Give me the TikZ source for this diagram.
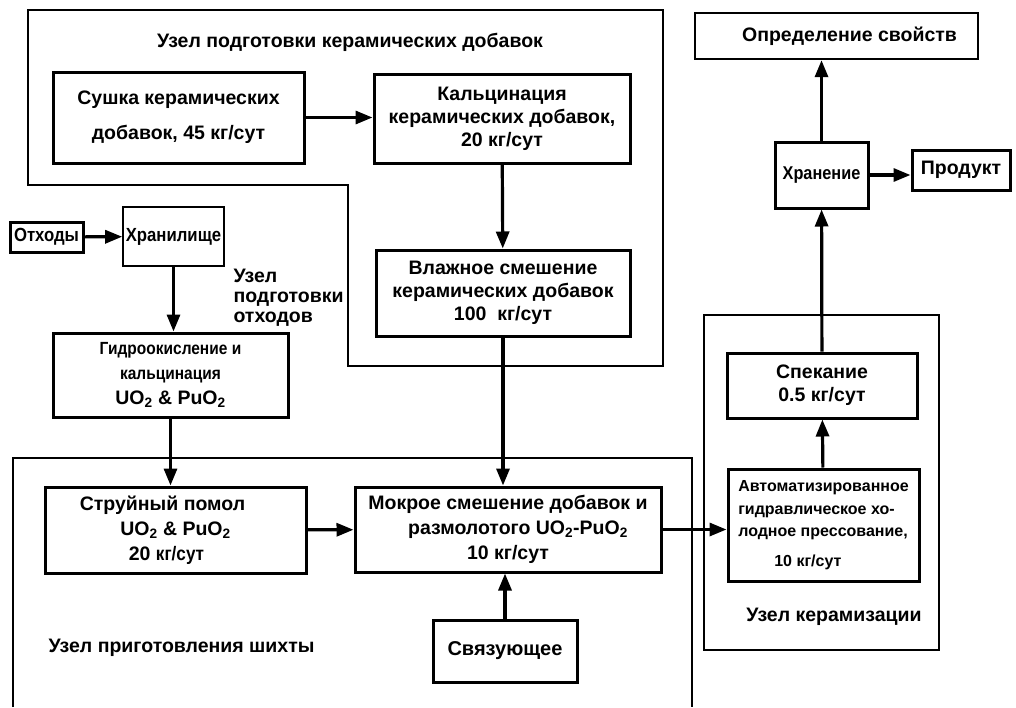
\documentclass[tikz,border=0pt]{standalone}
\usepackage{fontspec}
\setmainfont{Liberation Sans}
\newfontfamily\uzkij[FakeStretch=0.88]{Liberation Sans}
\usetikzlibrary{arrows.meta}
\tikzset{
  blok/.style={draw, line width=3pt, inner sep=0pt, align=center, font=\bfseries\fontsize{19.5}{23}\selectfont},
  tonkij/.style={draw, line width=1.6pt, inner sep=0pt, align=center, font=\bfseries\uzkij\fontsize{19}{23}\selectfont},
  gruppa/.style={line width=1.4pt},
  strelka/.style={-{Triangle[length=17pt,width=13pt]}, line width=3.2pt},
  podpis/.style={font=\bfseries\fontsize{19.5}{20}\selectfont, align=left}
}
\begin{document}
\begin{tikzpicture}[x=1pt, y=-1pt]
\useasboundingbox[fill=white] (0,0) rectangle (1016,707);
\draw[gruppa] (28,10) -- (663,10) -- (663,366) -- (348,366) -- (348,185) -- (28,185) -- cycle;
\draw[gruppa] (13,707) -- (13,458) -- (692,458) -- (692,707);
\draw[gruppa] (704,315) rectangle (939,650);
\node (uzelDob)[podpis] at (350,42) {Узел подготовки керамических добавок};
\node (uzelOth)[podpis, anchor=west] at (230,298) {Узел\\подготовки\\отходов};
\node (uzelShihty)[podpis, anchor=west] at (45,648) {Узел приготовления шихты};
\node (uzelKeram)[podpis] at (834,617) {Узел керамизации};
\node (sushka)[blok, minimum width=251pt, minimum height=91pt, font=\bfseries\fontsize{19.5}{35}\selectfont] at (178.5,117.5) {Сушка керамических\\добавок, 45 кг/сут};
\node (kalc)[blok, minimum width=256pt, minimum height=89pt] at (502,118.5) {Кальцинация\\керамических добавок,\\20 кг/сут};
\node (vlazh)[blok, minimum width=254pt, minimum height=86pt] at (503,293) {Влажное смешение\\керамических добавок\\100~ кг/сут};
\node (othody)[blok, minimum width=73pt, minimum height=30pt, font=\bfseries\uzkij\fontsize{19}{23}\selectfont] at (46.5,237) {Отходы};
\node (hranil)[tonkij, minimum width=101pt, minimum height=59pt] at (173.5,236.5) {Хранилище};
\node (gidro)[blok, minimum width=235pt, minimum height=84pt, font=\bfseries\uzkij\fontsize{17.6}{25}\selectfont] at (170.5,375) {Гидроокисление и\\кальцинация\\{\normalfont\bfseries\fontsize{19.5}{25}\selectfont UO\textsubscript{2} \& PuO\textsubscript{2}}};
\node (struy)[blok, minimum width=261pt, minimum height=86pt, font=\bfseries\fontsize{19.5}{25}\selectfont] at (175.5,530) {Струйный помол\hspace*{26pt}\\UO\textsubscript{2} \& PuO\textsubscript{2}\\20 {\uzkij кг/сут}\hspace*{18pt}};
\node (mokr)[blok, minimum width=306pt, minimum height=85pt, font=\bfseries\fontsize{19.5}{25}\selectfont] at (508,529.5) {Мокрое смешение добавок и\\\hspace*{20pt}размолотого UO\textsubscript{2}-PuO\textsubscript{2}\\10 кг/сут};
\node (svyaz)[blok, minimum width=144pt, minimum height=62pt, font=\bfseries\fontsize{20}{23}\selectfont] at (505,651) {Связующее};
\node (opred)[blok, line width=2.4pt, minimum width=283pt, minimum height=46pt] at (836.5,36) {\hspace*{26pt}Определение свойств};
\node (hran)[blok, minimum width=93pt, minimum height=66pt, font=\bfseries\uzkij\fontsize{18.5}{23}\selectfont] at (821.5,175) {Хранение};
\node (prod)[blok, minimum width=98pt, minimum height=40pt] at (961,170) {Продукт};
\node (spek)[blok, minimum width=190pt, minimum height=65pt] at (822,385.5) {Спекание\\0.5 кг/сут};
\node (avto)[blok, minimum width=191pt, minimum height=112pt, align=left, font=\bfseries\fontsize{16}{22.5}\selectfont] at (823.5,525) {Автоматизированное\\гидравлическое хо-\\лодное прессование,\\[7pt]\hspace*{36pt}10 кг/сут};
\draw[strelka] (sushka.east) -- (sushka.east -| kalc.west);
\draw[strelka] (kalc) -- (vlazh);
\draw[strelka] (vlazh.south) -- (vlazh.south |- mokr.north);
\draw[strelka] (othody) -- (hranil);
\draw[strelka] (hranil.south) -- (hranil.south |- gidro.north);
\draw[strelka] (gidro.south) -- (gidro.south |- struy.north);
\draw[strelka] (struy) -- (mokr);
\draw[strelka] (svyaz) -- (svyaz |- mokr.south);
\draw[strelka] (mokr.east) -- (mokr.east -| avto.west);
\draw[strelka] (avto) -- (spek);
\draw[strelka] (spek) -- (hran);
\draw[strelka] (hran.north) -- (hran.north |- opred.south);
\draw[strelka] (hran.east) -- (hran.east -| prod.west);
\end{tikzpicture}
\end{document}
